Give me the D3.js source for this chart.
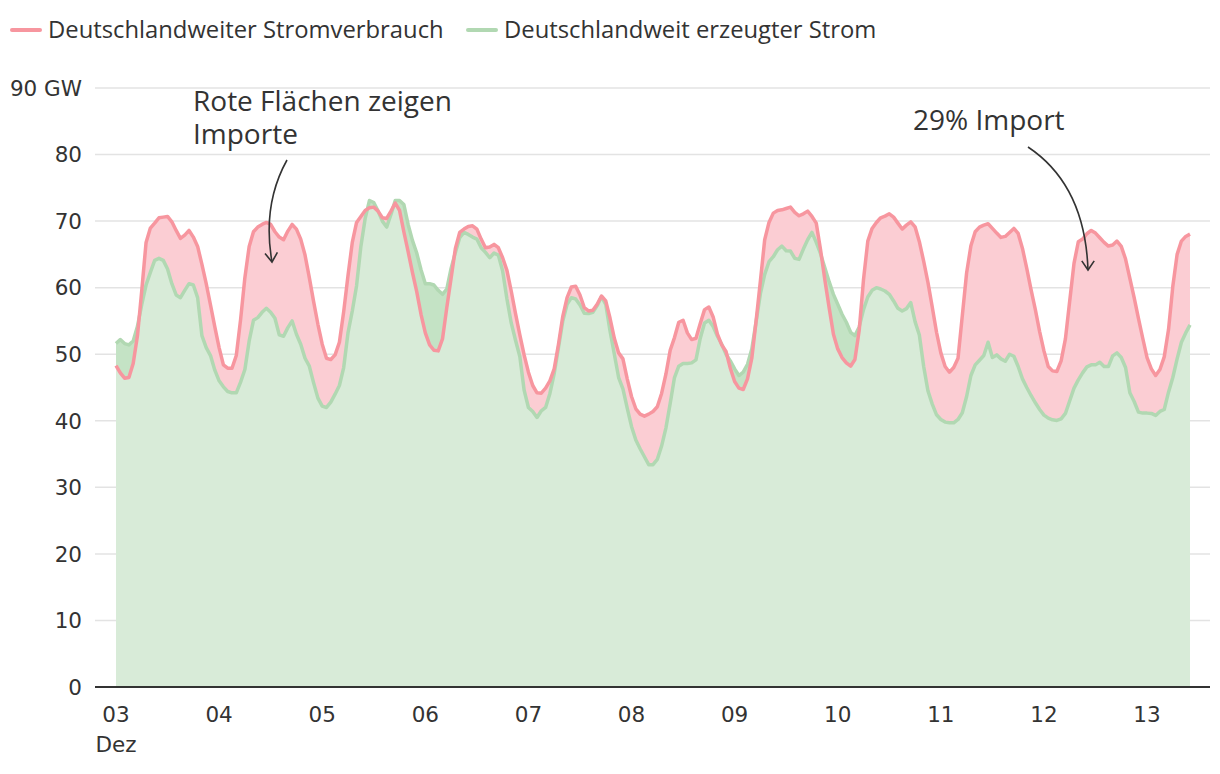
<!DOCTYPE html>
<html>
<head>
<meta charset="utf-8">
<script src="https://cdn.jsdelivr.net/npm/d3@7"></script>
<style>
  html, body { margin: 0; padding: 0; background: #fff; }
  svg { display: block; }
</style>
</head>
<body>
<svg id="chart" width="1220" height="774"></svg>
<script>
// ---- Data (GW, hourly from 03 Dec 00:00) ----
const startTime = new Date(2023, 11, 3, 0, 0);
const stepHours = 1;
const consumption = [
  48.3,47.2,46.4,46.5,48.6,52.8,59.6,66.8,68.95,69.7,70.5,70.6,70.7,69.9,68.6,67.4,67.9,68.6,67.6,66.2,63.5,60.6,57.4,54.1,
  51.0,48.4,47.9,47.9,49.8,55.2,61.5,66.2,68.4,69.1,69.5,69.8,69.5,68.4,67.6,67.2,68.5,69.5,68.8,67.3,64.9,61.5,57.9,54.5,
  51.5,49.4,49.2,49.9,51.8,56.4,61.8,66.8,69.8,70.7,71.6,72.0,72.1,71.5,70.5,70.4,71.5,72.7,71.6,68.4,65.4,62.3,59.4,56.0,
  53.2,51.4,50.6,50.5,52.3,57.0,61.4,65.9,68.3,68.8,69.2,69.3,68.8,67.3,66.0,66.1,66.5,66.0,64.5,62.6,59.5,56.1,52.9,49.9,
  47.3,45.3,44.2,44.15,44.9,46.0,47.8,51.5,55.7,58.5,60.1,60.2,58.9,57.0,56.5,56.6,57.5,58.75,58.0,55.4,52.4,50.2,49.3,46.3,
  43.65,41.8,41.0,40.7,41.0,41.4,42.1,44.1,47.0,50.6,52.5,54.8,55.1,53.2,52.2,52.4,54.6,56.7,57.1,55.6,53.0,51.4,50.4,47.9,
  45.9,44.9,44.7,46.3,49.4,55.0,61.0,67.2,69.8,71.2,71.6,71.7,71.9,72.1,71.3,70.8,71.1,71.5,70.7,69.7,65.7,61.2,57.0,53.0,
  50.8,49.5,48.7,48.2,49.2,53.6,61.2,67.0,68.9,69.8,70.5,70.75,71.1,70.6,69.7,68.8,69.4,69.9,69.15,66.9,64.0,60.8,57.1,53.3,
  50.2,48.15,47.3,48.0,49.4,55.8,62.2,66.3,68.4,69.1,69.4,69.6,68.9,68.2,67.55,67.7,68.3,68.9,68.15,65.9,62.9,59.7,56.7,53.4,
  50.5,48.15,47.5,47.4,49.0,52.3,58.0,63.65,66.9,67.3,68.1,68.6,68.2,67.5,66.8,66.25,66.4,67.0,66.2,64.3,61.4,58.5,55.4,52.4,
  49.5,47.8,46.8,47.7,49.6,53.7,60.2,65.0,67.0,67.7,68.05
];
const generation = [
  51.6,52.2,51.6,51.4,52.0,54.2,57.5,60.4,62.3,64.1,64.4,64.1,62.8,60.6,58.9,58.5,59.6,60.6,60.4,58.5,52.8,51.0,49.8,47.6,
  46.0,45.1,44.4,44.2,44.2,45.8,47.7,52.0,55.1,55.5,56.3,56.9,56.3,55.4,52.9,52.7,54.0,55.0,53.0,51.5,49.4,48.2,45.7,43.4,
  42.2,42.0,42.8,44.0,45.3,48.0,53.2,56.5,60.3,66.2,70.4,73.1,72.8,71.5,70.0,69.1,71.0,73.1,73.1,72.5,69.5,67.1,65.2,62.7,
  60.6,60.6,60.4,59.6,59.0,59.8,62.9,65.3,67.5,68.3,68.0,67.6,67.3,66.0,65.3,64.5,65.2,64.9,62.5,58.3,54.7,52.1,49.65,44.6,
  42.0,41.4,40.5,41.5,42.0,44.1,47.1,51.0,55.0,57.5,58.5,58.3,57.4,56.15,56.1,56.3,57.3,58.65,57.5,53.5,50.0,46.5,44.8,41.9,
  39.15,37.1,35.8,34.6,33.4,33.4,34.2,36.2,38.9,42.6,46.5,48.2,48.6,48.6,48.7,49.15,52.4,54.7,55.1,54.15,52.7,51.5,50.0,49.0,
  47.8,46.8,47.3,48.5,50.8,54.9,59.1,62.0,63.9,64.65,65.7,66.25,65.55,65.5,64.4,64.25,65.8,67.2,68.3,66.8,65.1,63.0,60.9,59.0,
  57.5,56.0,54.8,53.3,52.8,54.1,56.7,58.6,59.6,60.0,59.8,59.5,59.0,58.0,56.9,56.5,56.85,57.75,54.9,52.9,48.2,44.5,42.5,40.9,
  40.2,39.8,39.7,39.7,40.2,41.2,43.65,46.8,48.4,49.1,49.8,51.8,49.5,49.9,49.3,48.95,50.0,49.7,48.15,46.3,45.0,43.8,42.7,41.7,
  40.85,40.4,40.15,40.05,40.3,41.1,43.0,44.9,46.15,47.2,48.1,48.4,48.4,48.8,48.15,48.15,49.75,50.2,49.5,48.0,44.2,42.9,41.3,41.15,
  41.15,41.1,40.8,41.4,41.7,44.3,46.5,49.3,51.8,53.2,54.4
];
const seriesNames = ["Deutschlandweiter Stromverbrauch", "Deutschlandweit erzeugter Strom"];
const yTicks = [0, 10, 20, 30, 40, 50, 60, 70, 80, 90];
const xTickDays = ["03","04","05","06","07","08","09","10","11","12","13"];
const annotations = [
  { lines: ["Rote Flächen zeigen", "Importe"] },
  { lines: ["29% Import"] }
];

// ---- Setup ----
const svg = d3.select("#chart");
const colors = {
  red: "#f7969f", green: "#b1d8b2",
  pink: "#fbcdd3", lightGreen: "#d8ebd8", darkGreen: "#c4e3c5",
  grid: "#e3e3e3", axis: "#333333", text: "#333333"
};

const data = consumption.map((c, i) => ({
  t: d3.timeHour.offset(startTime, i * stepHours),
  c: c,
  g: generation[i]
}));

const x = d3.scaleTime()
  .domain([startTime, data[data.length - 1].t])
  .range([116, 1190]);
const y = d3.scaleLinear().domain([0, 90]).range([687, 88]);

// gridlines
svg.append("g").selectAll("line")
  .data(yTicks.filter(d => d > 0))
  .join("line")
  .attr("x1", 95).attr("x2", 1210)
  .attr("y1", d => y(d)).attr("y2", d => y(d))
  .attr("stroke", colors.grid).attr("stroke-width", 1.5);

// areas
const areaRed = d3.area().x(d => x(d.t)).y0(y(0)).y1(d => y(d.c));
const areaGreen = d3.area().x(d => x(d.t)).y0(y(0)).y1(d => y(d.g));
const areaExcess = d3.area().x(d => x(d.t)).y0(d => y(d.c)).y1(d => y(Math.max(d.c, d.g)));

svg.append("path").datum(data).attr("d", areaRed).attr("fill", colors.pink);
svg.append("path").datum(data).attr("d", areaGreen).attr("fill", colors.lightGreen);
svg.append("path").datum(data).attr("d", areaExcess).attr("fill", colors.darkGreen);

// y tick labels
svg.append("g").selectAll("text")
  .data(yTicks)
  .join("text")
  .attr("x", 82).attr("y", d => y(d))
  .attr("dy", "0.36em")
  .attr("text-anchor", "end")
  .attr("font-family", "DejaVu Sans")
  .attr("font-size", 21.5)
  .attr("fill", colors.text)
  .text(d => d === 90 ? "90 GW" : d);

// lines
const lineG = d3.line().x(d => x(d.t)).y(d => y(d.g));
const lineC = d3.line().x(d => x(d.t)).y(d => y(d.c));
svg.append("path").datum(data).attr("d", lineG)
  .attr("fill", "none").attr("stroke", colors.green).attr("stroke-width", 3.5).attr("stroke-linejoin", "round");
svg.append("path").datum(data).attr("d", lineC)
  .attr("fill", "none").attr("stroke", colors.red).attr("stroke-width", 3.5).attr("stroke-linejoin", "round");

// x axis baseline
svg.append("line").attr("x1", 95).attr("x2", 1210)
  .attr("y1", y(0)).attr("y2", y(0))
  .attr("stroke", colors.axis).attr("stroke-width", 2);

// x tick labels
const xg = svg.append("g");
xTickDays.forEach((lab, i) => {
  const t = d3.timeDay.offset(startTime, i);
  xg.append("text")
    .attr("x", x(t)).attr("y", 722)
    .attr("text-anchor", "middle")
    .attr("font-family", "DejaVu Sans").attr("font-size", 21.5)
    .attr("fill", colors.text).text(lab);
});
xg.append("text")
  .attr("x", x(startTime)).attr("y", 752)
  .attr("text-anchor", "middle")
  .attr("font-family", "DejaVu Sans").attr("font-size", 21.5)
  .attr("fill", colors.text).text("Dez");

// legend
const legend = svg.append("g");
const legItems = [
  { name: seriesNames[0], color: colors.red, x: 12 },
  { name: seriesNames[1], color: colors.green, x: 468 }
];
legItems.forEach(it => {
  legend.append("line")
    .attr("x1", it.x).attr("x2", it.x + 28)
    .attr("y1", 30).attr("y2", 30)
    .attr("stroke", it.color).attr("stroke-width", 4).attr("stroke-linecap", "round");
  legend.append("text")
    .attr("x", it.x + 36).attr("y", 30).attr("dy", "0.35em")
    .attr("font-family", "Open Sans").attr("font-size", 23.8)
    .attr("fill", colors.text).text(it.name);
});

// annotations
const ann1 = svg.append("text")
  .attr("font-family", "Open Sans").attr("font-size", 28).attr("fill", colors.text);
ann1.append("tspan").attr("x", 193).attr("y", 111).text(annotations[0].lines[0]);
ann1.append("tspan").attr("x", 193).attr("y", 144).text(annotations[0].lines[1]);
svg.append("text")
  .attr("x", 913).attr("y", 130)
  .attr("font-family", "Open Sans").attr("font-size", 28).attr("fill", colors.text)
  .text(annotations[1].lines[0]);

// arrows
const arrowColor = "#333333";
function arrow(pathD, tip, angleDeg) {
  svg.append("path").attr("d", pathD)
    .attr("fill", "none").attr("stroke", arrowColor).attr("stroke-width", 1.6);
  const a = angleDeg * Math.PI / 180, len = 11, spread = 0.6;
  const p1 = [tip[0] - len * Math.cos(a - spread), tip[1] - len * Math.sin(a - spread)];
  const p2 = [tip[0] - len * Math.cos(a + spread), tip[1] - len * Math.sin(a + spread)];
  svg.append("path")
    .attr("d", `M${p1[0]},${p1[1]}L${tip[0]},${tip[1]}L${p2[0]},${p2[1]}`)
    .attr("fill", "none").attr("stroke", arrowColor).attr("stroke-width", 1.6);
}
arrow("M287,160 Q262,205 272,262", [272, 262], 85);
arrow("M1028,147 Q1085,185 1088,270", [1088, 270], 90);
</script>
</body>
</html>
